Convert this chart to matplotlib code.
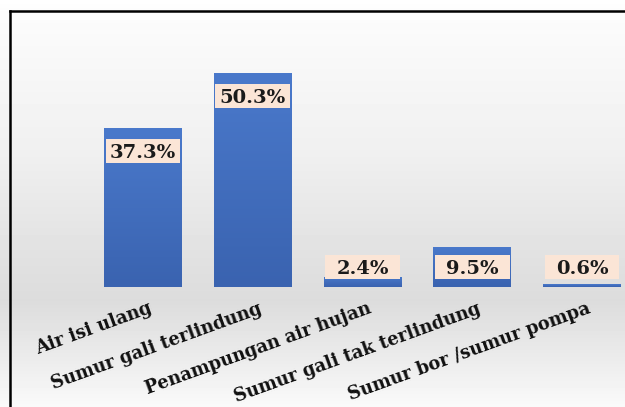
import numpy as np
import matplotlib
matplotlib.use("Agg")
import matplotlib.pyplot as plt
from matplotlib.patches import Rectangle
from matplotlib.lines import Line2D
from matplotlib.colors import LinearSegmentedColormap
import matplotlib.transforms as mtransforms

# data
categories = [
    "Air isi ulang",
    "Sumur gali terlindung",
    "Penampungan air hujan",
    "Sumur gali tak terlindung",
    "Sumur bor /sumur pompa",
]
values = [37.3, 50.3, 2.4, 9.5, 0.6]
labels = ["%.1f%%" % v for v in values]

W, H = 625, 407
fig = plt.figure(figsize=(W / 100, H / 100), dpi=100)

# background: soft vertical grey gradient
bg = fig.add_axes([0, 0, 1, 1], zorder=-10)
ys = np.array([0, 11, 150, 250, 300, 360, 407])
gs = np.array([255, 252, 240, 226, 220, 236, 250]) / 255.0
rows = np.interp(np.arange(H), ys, gs)
img = np.repeat(rows[:, None], 4, axis=1)
bg.imshow(img, cmap="gray", vmin=0, vmax=1, aspect="auto", extent=[0, 1, 0, 1])
bg.set_axis_off()

# plot axes in pixel terms: bar 0 centre at x=143, spacing ~109.75px,
# baseline at y=287 from top, 4.25 px per percent
px_unit = 109.75
x0, base = 143.0, 287.0
ppu = 4.25
left_px, right_px, top_px = 10, 625, 11
ax = fig.add_axes([left_px / W, (H - base) / H, (right_px - left_px) / W, (base - top_px) / H])
ax.patch.set_alpha(0)
for s in ax.spines.values():
    s.set_visible(False)
ax.set_yticks([])

xpos = np.arange(len(values))
bw = 0.71
bars = ax.bar(xpos, values, width=bw, color="#4170c1", zorder=2)

# subtle vertical gradient on every bar
grad = np.linspace(0, 1, 100)[:, None]
bcmap = LinearSegmentedColormap.from_list("b", ["#3a63b0", "#4a79cb"])
for b in bars:
    x, w, h = b.get_x(), b.get_width(), b.get_height()
    im = ax.imshow(grad, cmap=bcmap, aspect="auto", origin="lower",
                   extent=[x, x + w, 0, h], zorder=2.1)
    im.set_clip_path(b)
ax.set_xlim((left_px - x0) / px_unit, (right_px - x0) / px_unit)
ax.set_ylim(0, (base - top_px) / ppu)

# data labels in peach boxes
box_w = 0.68
box_h = 24 / ppu
for x, v, lab in zip(xpos, values, labels):
    yc = max(v - 5.4, 4.7)
    ax.add_patch(Rectangle((x - box_w / 2, yc - box_h / 2), box_w, box_h,
                           facecolor="#fbe5d6", edgecolor="none", zorder=3))
    ax.text(x, yc, lab, ha="center", va="center_baseline", fontsize=14,
            fontweight="bold", family="DejaVu Serif", color="#1a1a1a", zorder=4)

ax.set_xticks(xpos)
ax.set_xticklabels(categories, rotation=20, ha="right", rotation_mode="anchor",
                   fontsize=12.8, fontweight="bold", family="DejaVu Serif",
                   color="#111111")
ax.tick_params(axis="x", length=0, pad=9)
off = mtransforms.ScaledTranslation(5 / 100, 0, fig.dpi_scale_trans)
for t in ax.get_xticklabels():
    t.set_transform(t.get_transform() + off)

# black frame on the left and top
fig.add_artist(Line2D([10 / W, 10 / W], [0, 1 - 11 / H], color="black", lw=1.8,
                      transform=fig.transFigure))
fig.add_artist(Line2D([10 / W, 1], [1 - 11 / H, 1 - 11 / H], color="black", lw=1.8,
                      transform=fig.transFigure))

fig.savefig("out.png", dpi=100)
